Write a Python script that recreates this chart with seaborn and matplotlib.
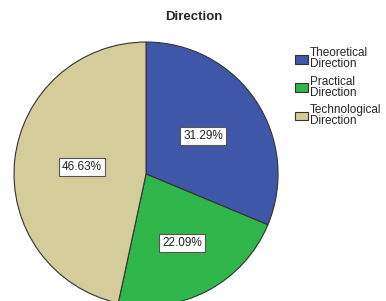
import numpy as np
import seaborn as sns
sns.set_theme(style="white")
import matplotlib.pyplot as plt

plt.rcParams['font.family'] = ['Liberation Sans', 'DejaVu Sans']

# data
categories = ['Theoretical\nDirection', 'Practical\nDirection', 'Technological\nDirection']
shares = [31.29, 22.09, 46.63]
colors = ['#3f57a8', '#2fb74c', '#d5cc9b']
label_dist = [0.52, 0.59, 0.49]

fig = plt.figure(figsize=(3.86, 3.01), dpi=100)
ax = fig.add_axes([0.0363, -0.0166, 0.684, 0.877])

wedges, texts, autotexts = ax.pie(
    shares, colors=colors, startangle=90, counterclock=False,
    autopct='%.2f%%', pctdistance=0.55,
    wedgeprops=dict(edgecolor='#333333', linewidth=0.8),
    textprops=dict(fontsize=8.5, color='#222222'))
for w, t, d in zip(wedges, autotexts, label_dist):
    ang = np.deg2rad((w.theta1 + w.theta2) / 2)
    t.set_position((d * np.cos(ang), d * np.sin(ang)))
    t.set_bbox(dict(facecolor='white', edgecolor='#555555', linewidth=0.8, pad=2.2))
ax.set_xlim(-1, 1)
ax.set_ylim(-1, 1)
ax.set_aspect('auto')

fig.text(0.503, 0.945, 'Direction', ha='center', va='center', fontsize=9.5, fontweight='bold')

leg = fig.legend(wedges, categories, loc='upper left', bbox_to_anchor=(0.765, 0.843),
                 frameon=False, fontsize=8.5, handlelength=1.1, handleheight=0.75,
                 handletextpad=0.15, labelspacing=0.45, borderaxespad=0, borderpad=0)
for t in leg.get_texts():
    t.set_linespacing(0.9)

plt.savefig('out.png', dpi=100)
